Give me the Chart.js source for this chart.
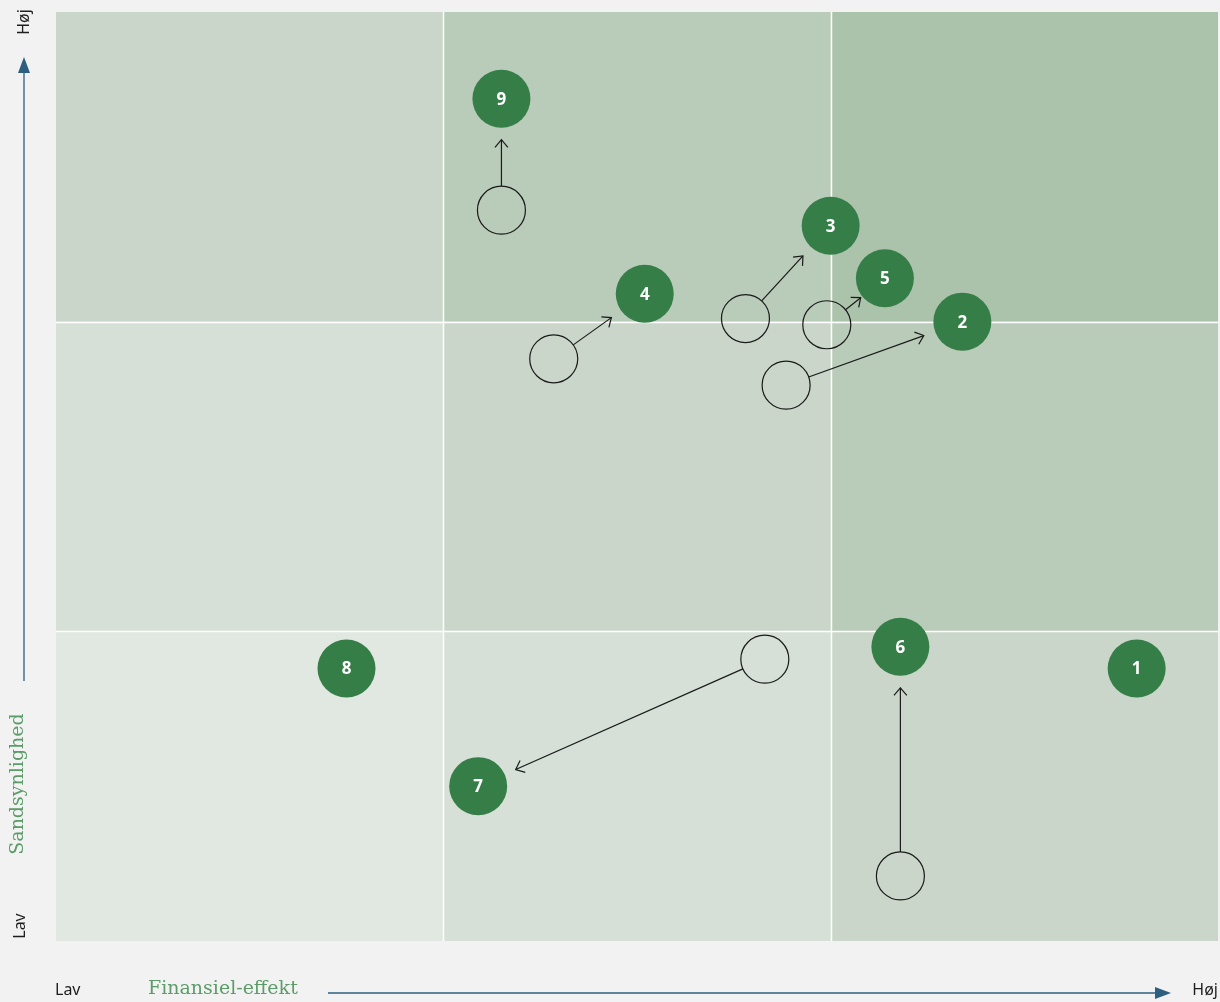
<!DOCTYPE html>
<html>
<head>
<meta charset="utf-8">
<script src="https://cdn.jsdelivr.net/npm/chart.js@4/dist/chart.umd.min.js"></script>
<style>
  html, body { margin: 0; padding: 0; background: #f2f2f2; }
  #wrap { width: 1220px; height: 1002px; position: relative; }
</style>
</head>
<body>
<div id="wrap"><canvas id="c" width="1220" height="1002"></canvas></div>
<script>
// ---- Data ----
const riskIds        = ['1', '2', '3', '4', '5', '6', '7', '8', '9'];
const newImpact      = [2.79, 2.34, 2.00, 1.52, 2.14, 2.18, 1.09, 0.75, 1.15];
const newLikelihood  = [0.88, 2.00, 2.31, 2.09, 2.14, 0.95, 0.50, 0.88, 2.72];
const oldImpact      = [null, 1.885, 1.78, 1.285, 1.99, 2.18, 1.83, null, 1.15];
const oldLikelihood  = [null, 1.795, 2.01, 1.88, 1.99, 0.21, 0.91, null, 2.36];
const zoneBounds     = [0, 1, 2, 3];
// cell colours by [row from bottom][column from left]
const cellColors = [
  ['#e1e7e1', '#d6e0d6', '#cad6ca'],
  ['#d6e0d6', '#cad6ca', '#b9cbb9'],
  ['#cad6ca', '#b9cbb9', '#abc2ab']
];
const xAxisLabel = 'Finansiel-effekt';
const yAxisLabel = 'Sandsynlighed';
const lowLabel = 'Lav';
const highLabel = 'Høj';

const newPts = riskIds.map((id, i) => ({ x: newImpact[i], y: newLikelihood[i], id }));
const oldPts = riskIds.map((id, i) => oldImpact[i] == null ? null : ({ x: oldImpact[i], y: oldLikelihood[i], id }))
  .filter(p => p);

const NEW_R = 29, OLD_R = 24;
const GREEN = '#367e48';
const AXIS_BLUE = '#2d5f7f';
const LABEL_GREEN = '#5b9c69';

const bgPlugin = {
  id: 'bg',
  beforeDatasetsDraw(chart) {
    const { ctx, scales: { x, y } } = chart;
    ctx.save();
    for (let r = 0; r < 3; r++) {
      for (let c = 0; c < 3; c++) {
        const x0 = x.getPixelForValue(zoneBounds[c]), x1 = x.getPixelForValue(zoneBounds[c + 1]);
        const y0 = y.getPixelForValue(zoneBounds[r + 1]), y1 = y.getPixelForValue(zoneBounds[r]);
        ctx.fillStyle = cellColors[r][c];
        ctx.fillRect(x0, y0, x1 - x0, y1 - y0);
      }
    }
    ctx.strokeStyle = '#ffffff';
    ctx.lineWidth = 1.5;
    [1, 2].forEach(v => {
      const px = Math.round(x.getPixelForValue(v)) + 0.5;
      ctx.beginPath(); ctx.moveTo(px, y.top); ctx.lineTo(px, y.bottom); ctx.stroke();
      const py = Math.round(y.getPixelForValue(v)) + 0.5;
      ctx.beginPath(); ctx.moveTo(x.left, py); ctx.lineTo(x.right, py); ctx.stroke();
    });
    ctx.restore();
  }
};

const arrowPlugin = {
  id: 'arrows',
  afterDatasetDraw(chart, args) {
    if (args.index !== 0) return; // after old circles, before new points
    const { ctx, scales: { x, y } } = chart;
    ctx.save();
    ctx.strokeStyle = '#1a1a1a';
    ctx.lineWidth = 1.2;
    riskIds.forEach((id, i) => {
      if (oldImpact[i] == null) return;
      const ox = x.getPixelForValue(oldImpact[i]), oy = y.getPixelForValue(oldLikelihood[i]);
      const nx = x.getPixelForValue(newImpact[i]), ny = y.getPixelForValue(newLikelihood[i]);
      const dx = nx - ox, dy = ny - oy, d = Math.hypot(dx, dy);
      const ux = dx / d, uy = dy / d;
      const gap = Math.max(2, Math.min(12, d - OLD_R - NEW_R - 20));
      const sx = ox + ux * OLD_R, sy = oy + uy * OLD_R;
      const ex = nx - ux * (NEW_R + gap), ey = ny - uy * (NEW_R + gap);
      ctx.beginPath(); ctx.moveTo(sx, sy); ctx.lineTo(ex, ey); ctx.stroke();
      const ang = Math.atan2(dy, dx), L = 10, a = Math.PI / 4.5;
      ctx.beginPath();
      ctx.moveTo(ex - L * Math.cos(ang - a), ey - L * Math.sin(ang - a));
      ctx.lineTo(ex, ey);
      ctx.lineTo(ex - L * Math.cos(ang + a), ey - L * Math.sin(ang + a));
      ctx.stroke();
    });
    ctx.restore();
  },
  afterDatasetsDraw(chart) {
    const { ctx, scales: { x, y } } = chart;
    ctx.save();
    ctx.fillStyle = '#ffffff';
    ctx.font = 'bold 17px "Noto Sans"';
    ctx.textAlign = 'center';
    ctx.textBaseline = 'middle';
    newPts.forEach(p => {
      ctx.fillText(p.id, x.getPixelForValue(p.x), y.getPixelForValue(p.y) + 1);
    });
    ctx.restore();
  }
};

const axesPlugin = {
  id: 'axesDeco',
  afterDraw(chart) {
    const { ctx } = chart;
    ctx.save();
    // vertical arrow
    const ax = 24;
    ctx.strokeStyle = AXIS_BLUE; ctx.fillStyle = AXIS_BLUE; ctx.lineWidth = 1.3;
    ctx.beginPath(); ctx.moveTo(ax, 681); ctx.lineTo(ax, 70); ctx.stroke();
    ctx.beginPath(); ctx.moveTo(ax, 57); ctx.lineTo(ax - 6, 73); ctx.lineTo(ax + 6, 73); ctx.closePath(); ctx.fill();
    // horizontal arrow
    const ay = 993;
    ctx.beginPath(); ctx.moveTo(328, ay); ctx.lineTo(1158, ay); ctx.stroke();
    ctx.beginPath(); ctx.moveTo(1171, ay); ctx.lineTo(1155, ay - 6); ctx.lineTo(1155, ay + 6); ctx.closePath(); ctx.fill();

    // bottom labels
    ctx.fillStyle = '#1e1e1e';
    ctx.font = '16px "Noto Sans"';
    ctx.textBaseline = 'middle';
    ctx.textAlign = 'left';
    ctx.fillText(lowLabel, 55, 990);
    ctx.textAlign = 'right';
    ctx.fillText(highLabel, 1218, 990);
    ctx.fillStyle = LABEL_GREEN;
    ctx.font = '19px "DejaVu Serif"';
    ctx.textAlign = 'left';
    ctx.fillText(xAxisLabel, 148, 989);

    // vertical labels
    ctx.save();
    ctx.translate(24, 22); ctx.rotate(-Math.PI / 2);
    ctx.fillStyle = '#1e1e1e'; ctx.font = '16px "Noto Sans"';
    ctx.textAlign = 'center'; ctx.fillText(highLabel, 0, 0);
    ctx.restore();
    ctx.save();
    ctx.translate(20, 926); ctx.rotate(-Math.PI / 2);
    ctx.fillStyle = '#1e1e1e'; ctx.font = '16px "Noto Sans"';
    ctx.textAlign = 'center'; ctx.fillText(lowLabel, 0, 0);
    ctx.restore();
    ctx.save();
    ctx.translate(18, 784); ctx.rotate(-Math.PI / 2);
    ctx.fillStyle = LABEL_GREEN; ctx.font = '19px "DejaVu Serif"';
    ctx.textAlign = 'center'; ctx.fillText(yAxisLabel, 0, 0);
    ctx.restore();
    ctx.restore();
  }
};

new Chart(document.getElementById('c'), {
  type: 'scatter',
  data: {
    datasets: [
      {
        label: 'Før',
        data: oldPts,
        pointRadius: OLD_R,
        pointHoverRadius: OLD_R,
        backgroundColor: 'rgba(0,0,0,0)',
        borderColor: '#1a1a1a',
        borderWidth: 1.2,
        clip: false
      },
      {
        label: 'Nu',
        data: newPts,
        pointRadius: NEW_R,
        pointHoverRadius: NEW_R,
        backgroundColor: GREEN,
        borderWidth: 0,
        clip: false
      }
    ]
  },
  options: {
    responsive: false,
    animation: false,
    events: [],
    layout: { autoPadding: false, padding: { left: 56, right: 2, top: 12, bottom: 61 } },
    plugins: { legend: { display: false }, tooltip: { enabled: false } },
    scales: {
      x: { type: 'linear', min: 0, max: 3, display: false },
      y: { type: 'linear', min: 0, max: 3, display: false }
    }
  },
  plugins: [bgPlugin, arrowPlugin, axesPlugin]
});
</script>
</body>
</html>
